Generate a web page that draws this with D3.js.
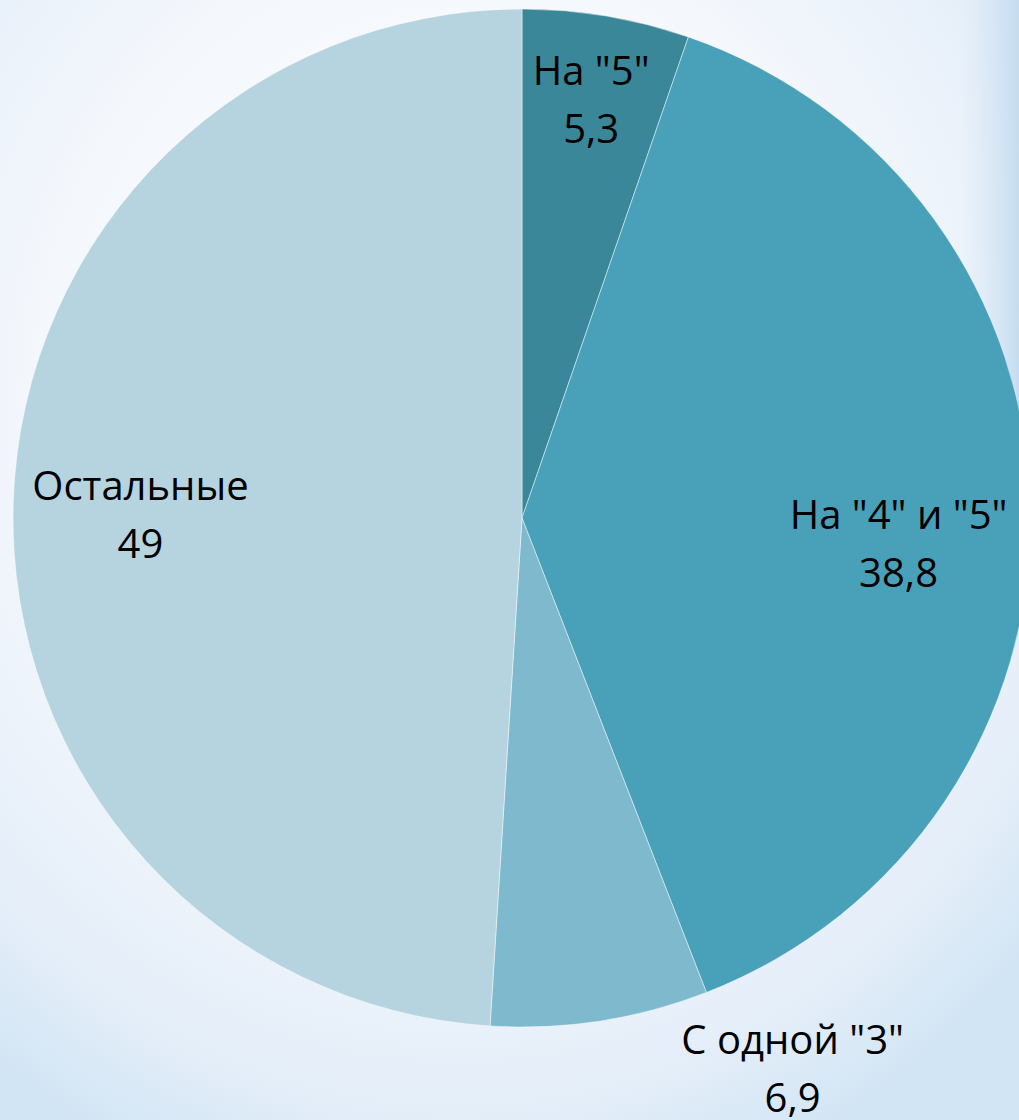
<!DOCTYPE html>
<html>
<head>
<meta charset="utf-8">
<script src="https://cdn.jsdelivr.net/npm/d3@7"></script>
<style>
  html, body { margin: 0; padding: 0; overflow: hidden; }
  svg { display: block; }
</style>
</head>
<body>
<div id="main"></div>
<script>
// data
const categories = ['На "5"', 'На "4" и "5"', 'С одной "3"', 'Остальные']
const values = [5.3, 38.8, 6.9, 49]
const valueLabels = ['5,3', '38,8', '6,9', '49']
const colors = ['#3a8799', '#48a1b9', '#7eb9ce', '#b6d4df']

const WIDTH = 1019, HEIGHT = 1120
const cx = 522, cy = 518, R = 509

const svg = d3.select('#main').append('svg').attr('width', WIDTH).attr('height', HEIGHT)

// background
const defs = svg.append('defs')
const bg = defs.append('radialGradient').attr('id', 'bg').attr('cx', '45%').attr('cy', '35%').attr('r', '75%')
bg.append('stop').attr('offset', '0%').attr('stop-color', '#ffffff')
bg.append('stop').attr('offset', '55%').attr('stop-color', '#f4f7fc')
bg.append('stop').attr('offset', '85%').attr('stop-color', '#e4eef9')
bg.append('stop').attr('offset', '100%').attr('stop-color', '#d2e5f4')
svg.append('rect').attr('width', WIDTH).attr('height', HEIGHT).attr('fill', 'url(#bg)')

const streak = defs.append('linearGradient').attr('id', 'streak').attr('x1', '0').attr('x2', '1')
streak.append('stop').attr('offset', '0%').attr('stop-color', '#cfe3f3').attr('stop-opacity', 0)
streak.append('stop').attr('offset', '100%').attr('stop-color', '#bcd8ee').attr('stop-opacity', 0.8)
svg.append('rect').attr('x', 960).attr('y', 0).attr('width', 59).attr('height', 420).attr('fill', 'url(#streak)')

// pie
const pie = d3.pie().sort(null).value(d => d)
const arcs = pie(values)
const arc = d3.arc().innerRadius(0).outerRadius(R)

const g = svg.append('g').attr('transform', 'translate(' + cx + ',' + cy + ')')
g.selectAll('path.slice').data(arcs).enter().append('path')
  .attr('class', 'slice')
  .attr('d', arc)
  .attr('fill', (d, i) => colors[i])
  .attr('stroke', 'rgba(255,255,255,0.45)')
  .attr('stroke-width', 1)

// label placement (Excel "best fit" look): radius factor + nudge
const labelRadius = [0.82, 0.74, 1.2, 0.75]
const nudge = [[0, -15], [0, 24], [177, -62], [0, 0]]
const labelArc = i => d3.arc().innerRadius(R * labelRadius[i]).outerRadius(R * labelRadius[i])

const labels = g.selectAll('g.lbl').data(arcs).enter().append('g')
  .attr('class', 'lbl')
  .attr('transform', (d, i) => {
    const c = labelArc(i).centroid(d)
    return 'translate(' + (c[0] + nudge[i][0]) + ',' + (c[1] + nudge[i][1]) + ')'
  })

const fs = 40
labels.append('text')
  .attr('text-anchor', 'middle')
  .attr('y', -6)
  .style('font-family', '"Open Sans", sans-serif')
  .style('font-size', fs + 'px')
  .attr('fill', '#000')
  .text((d, i) => categories[i])
labels.append('text')
  .attr('text-anchor', 'middle')
  .attr('y', 52)
  .style('font-family', '"Open Sans", sans-serif')
  .style('font-size', fs + 'px')
  .attr('fill', '#000')
  .text((d, i) => valueLabels[i])
</script>
</body>
</html>
